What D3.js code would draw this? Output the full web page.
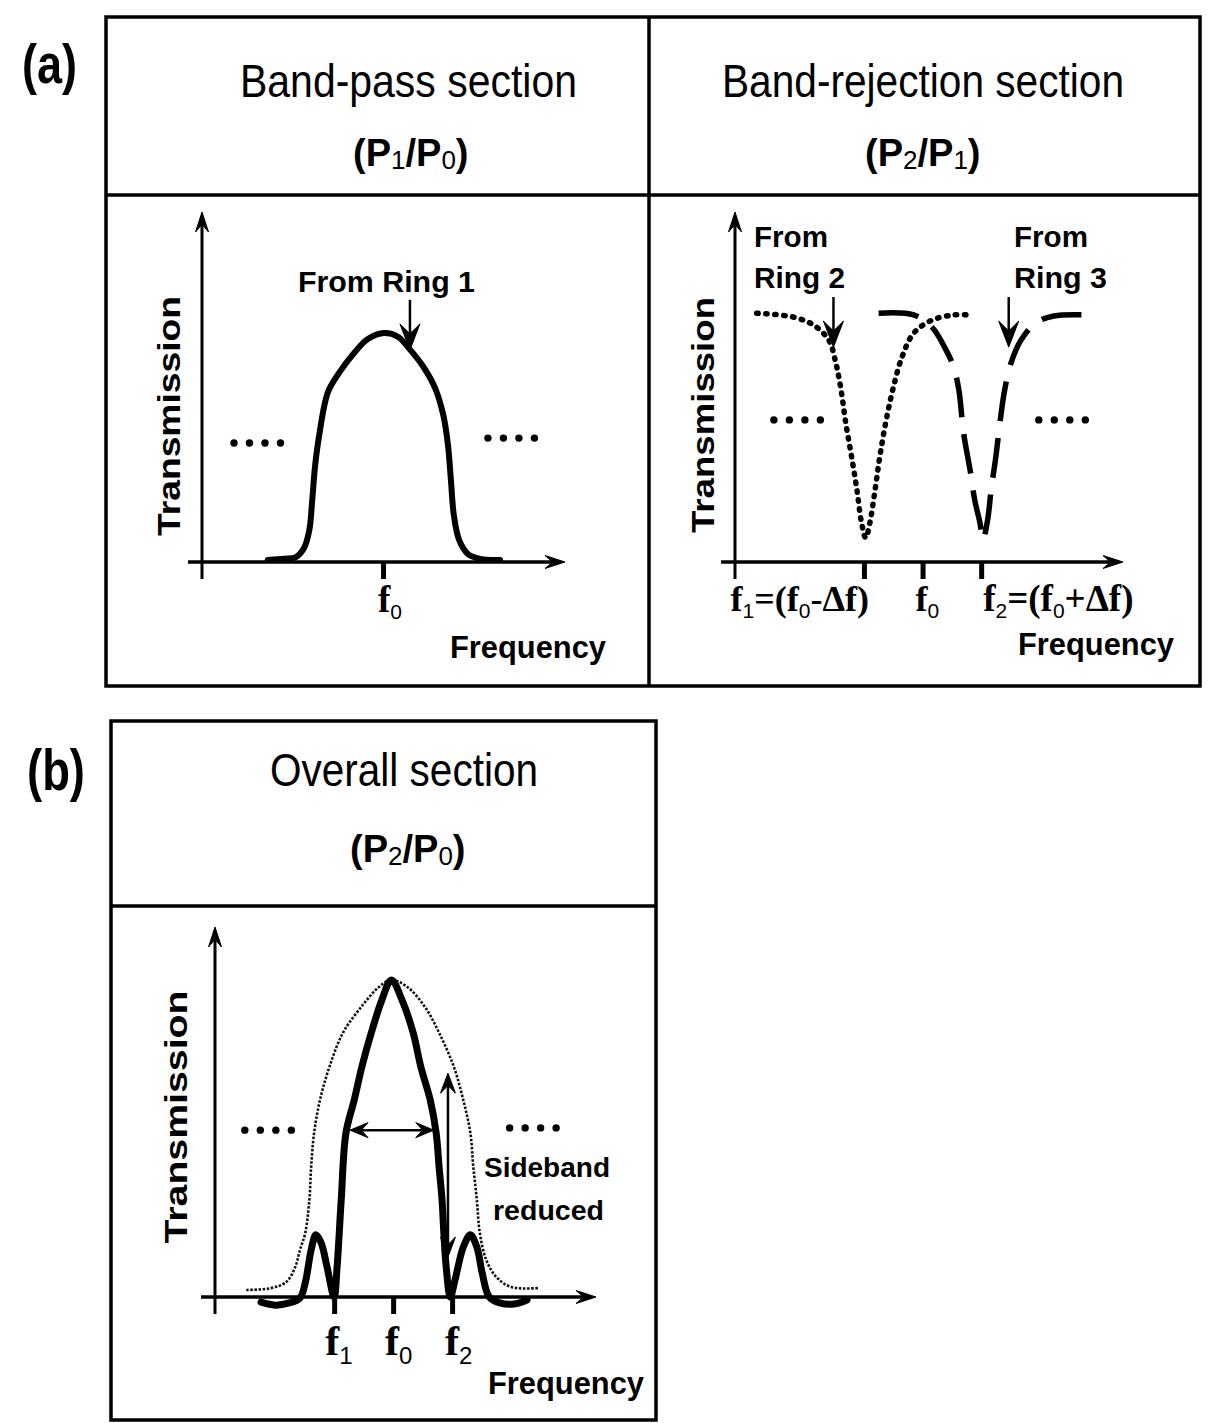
<!DOCTYPE html>
<html><head><meta charset="utf-8">
<script src="https://cdn.jsdelivr.net/npm/d3@7/dist/d3.min.js"></script>
<style>body{margin:0;background:#fff;} svg{display:block;}</style>
</head><body>
<svg id="c" width="1209" height="1423"></svg>
<script>
// ================= DATA =================
const panelLabels = ["(a)", "(b)"];
const sectionTitles = ["Band-pass section", "Band-rejection section", "Overall section"];
const ratioTitles = [
  [["(P",0],["1",1],["/P",0],["0",1],[")",0]],
  [["(P",0],["2",1],["/P",0],["1",1],[")",0]],
  [["(P",0],["2",1],["/P",0],["0",1],[")",0]]
];
const axisTitleX = "Frequency";
const axisTitleY = "Transmission";

// x in units of Δf relative to f0, y = normalised transmission
const ring1X = [-1.97,-1.68,-1.49,-1.35,-1.26,-1.21,-1.16,-1.09,-0.94,-0.74,-0.48,-0.26,0.02,0.26,0.44,0.68,0.89,1.03,1.11,1.16,1.21,1.30,1.45,1.66,2.00];
const ring1Y = [0.006,0.009,0.014,0.040,0.091,0.177,0.277,0.363,0.486,0.543,0.600,0.637,0.654,0.643,0.611,0.560,0.497,0.420,0.334,0.234,0.134,0.063,0.023,0.009,0.006];

const ring2X = [-2.83,-2.21,-1.86,-1.60,-1.48,-1.39,-1.31,-1.21,-1.12,-1.04,-0.97,-0.90,-0.81,-0.73,-0.63,-0.51,-0.35,-0.15,0.16,0.53,0.77];
const ring2Y = [0.711,0.700,0.677,0.634,0.569,0.491,0.397,0.300,0.206,0.111,0.069,0.111,0.206,0.300,0.397,0.491,0.586,0.654,0.691,0.706,0.706];

const ring3X = [-0.75,-0.15,0.16,0.40,0.53,0.62,0.70,0.82,0.89,0.98,1.03,1.11,1.17,1.25,1.32,1.40,1.51,1.68,1.93,2.24,2.79];
const ring3Y = [0.711,0.706,0.671,0.606,0.557,0.491,0.369,0.254,0.177,0.111,0.063,0.120,0.206,0.300,0.397,0.491,0.569,0.634,0.683,0.703,0.706];

const envX = [-2.49,-2.07,-1.81,-1.66,-1.58,-1.49,-1.42,-1.39,-1.34,-1.24,-1.08,-0.85,-0.54,-0.24,-0.03,0.24,0.54,0.78,1.03,1.19,1.31,1.36,1.42,1.47,1.58,1.75,2.00,2.46];
const envY = [0.019,0.024,0.041,0.081,0.127,0.173,0.262,0.351,0.443,0.532,0.622,0.714,0.784,0.838,0.857,0.838,0.784,0.714,0.622,0.532,0.443,0.351,0.262,0.173,0.100,0.054,0.027,0.024];

const overallX = [-2.24,-2.00,-1.76,-1.58,-1.49,-1.39,-1.31,-1.22,-1.12,-1.00,-0.95,-0.88,-0.80,-0.66,-0.53,-0.37,-0.19,-0.03,0.15,0.34,0.47,0.63,0.73,0.78,0.83,0.86,0.90,0.97,1.05,1.19,1.31,1.42,1.51,1.63,1.81,2.05,2.27];
const overallY = [-0.014,-0.022,-0.016,-0.003,0.038,0.127,0.168,0.146,0.081,0.000,0.081,0.262,0.443,0.532,0.622,0.714,0.803,0.857,0.803,0.714,0.622,0.532,0.443,0.351,0.262,0.173,0.081,0.000,0.046,0.135,0.168,0.135,0.065,0.000,-0.016,-0.019,-0.008];

// tick values and labels
const ticksA1 = [0];
const tickLabelsA1 = [[["f",0],["0",1]]];
const ticksA2 = [-1, 0, 1];
const tickLabelsA2 = [
  [["f",0],["1",1],["=(f",0],["0",1],["-Δf)",0]],
  [["f",0],["0",1]],
  [["f",0],["2",1],["=(f",0],["0",1],["+Δf)",0]]
];
const ticksB = [-1, 0, 1];
const tickLabelsB = [[["f",0],["1",1]], [["f",0],["0",1]], [["f",0],["2",1]]];

// annotations (data coords)
const annoA1 = [{text:["From Ring 1"], x:0.46, y0:0.749, y1:0.606}];
const annoA2 = [{text:["From","Ring 2"], x:-1.52, y0:0.757, y1:0.614},
                {text:["From","Ring 3"], x:1.47, y0:0.757, y1:0.614}];
const sidebandText = ["Sideband", "reduced"];
const bandwidthArrow = {x0:-0.73, x1:0.69, y:0.451};
const sidebandArrow = {x:0.93, y0:0.605, y1:0.108};
const ellipsisA1 = [{x:-2.15,y:0.34},{x:2.19,y:0.354}];
const ellipsisA2 = [{x:-2.14,y:0.406},{x:2.38,y:0.406}];
const ellipsisB = [{x:-2.12,y:0.451},{x:2.37,y:0.457}];

// ================= DRAW =================
const svg = d3.select("#c");
const SANS = "'Liberation Sans', Arial, Helvetica, sans-serif";
const SERIF = "'Liberation Serif', 'Times New Roman', serif";

function plainText(g, s, x, y, o) {
  const t = g.append("text").attr("x", x).attr("y", y).text(s)
    .attr("font-family", o.family || SANS)
    .attr("font-size", o.size).attr("font-weight", o.weight || "normal")
    .attr("text-anchor", o.anchor || "start").attr("fill", "#000");
  if (o.len) t.attr("textLength", o.len).attr("lengthAdjust", "spacingAndGlyphs");
  if (o.transform) t.attr("transform", o.transform);
  return t;
}
function richText(g, parts, x, y, o) {
  const t = g.append("text").attr("x", x).attr("y", y)
    .attr("font-family", o.family).attr("font-size", o.size)
    .attr("font-weight", o.weight || "bold").attr("text-anchor", o.anchor || "start").attr("fill","#000");
  let prevSub = false;
  parts.forEach(([s, sub]) => {
    const ts = t.append("tspan").text(s);
    if (sub) {
      ts.attr("font-size", o.subSize).attr("font-family", o.subFamily || SANS)
        .attr("font-weight", "normal").attr("dy", o.subDy);
      prevSub = true;
    } else {
      if (prevSub) ts.attr("dy", -o.subDy);
      prevSub = false;
    }
  });
  return t;
}
function arrowHead(g, tx, ty, dx, dy, L, W) {
  const px = -dy, py = dx;
  const bx = tx - dx * L, by = ty - dy * L;
  const nx = tx - dx * L * 0.62, ny = ty - dy * L * 0.62;
  g.append("path")
    .attr("d", `M${tx},${ty}L${bx + px * W / 2},${by + py * W / 2}L${nx},${ny}L${bx - px * W / 2},${by - py * W / 2}Z`)
    .attr("fill", "#000").attr("stroke", "#000").attr("stroke-width", 1).attr("stroke-linejoin", "miter");
}
function frame(x0, y0, x1, y1, yTitle, xDiv) {
  const g = svg.append("g").attr("fill", "none").attr("stroke", "#000").attr("stroke-width", 3.5);
  g.append("rect").attr("x", x0).attr("y", y0).attr("width", x1 - x0).attr("height", y1 - y0);
  g.append("line").attr("x1", x0).attr("x2", x1).attr("y1", yTitle).attr("y2", yTitle);
  if (xDiv) g.append("line").attr("x1", xDiv).attr("x2", xDiv).attr("y1", y0).attr("y2", y1);
}
function axes(g, x, y, ticks, tickLabels, labelOpts) {
  const [xa, xb] = x.range();
  const y0 = y(0), yTop = y.range()[1];
  g.append("line").attr("x1", xa).attr("x2", xa).attr("y1", y0 + 17).attr("y2", yTop + 8)
    .attr("stroke", "#000").attr("stroke-width", 3);
  arrowHead(g, xa, yTop, 0, -1, 20, 13);
  g.append("line").attr("x1", xa - 14).attr("x2", xb - 8).attr("y1", y0).attr("y2", y0)
    .attr("stroke", "#000").attr("stroke-width", 3.5);
  arrowHead(g, xb, y0, 1, 0, 20, 13);
  const ax = g.append("g").attr("transform", `translate(0,${y0})`)
    .call(d3.axisBottom(x).tickValues(ticks).tickSize(17).tickFormat(() => ""));
  ax.select(".domain").remove();
  ax.selectAll(".tick line").attr("stroke", "#000").attr("stroke-width", 5);
  ticks.forEach((v, i) => {
    const lo = labelOpts[i];
    richText(g, tickLabels[i], x(v) + lo.dx, lo.y, {
      family: SERIF, size: lo.size, subSize: lo.subSize, subDy: lo.subDy, weight: "bold",
      anchor: lo.anchor, subFamily: SANS });
  });
}
function ellipsis(g, x, y, list) {
  list.forEach(e => {
    const cx = x(e.x), cy = y(e.y);
    g.selectAll(null).data([-1.5, -0.5, 0.5, 1.5]).enter().append("circle")
      .attr("cx", d => cx + d * 15.5).attr("cy", cy).attr("r", 3.7).attr("fill", "#000");
  });
}
const lineGen = (x, y) => d3.line().x(d => x(d[0])).y(d => y(d[1])).curve(d3.curveCatmullRom.alpha(0.5));
const zip = (a, b) => a.map((v, i) => [v, b[i]]);

// ---------- panel (a) frame ----------
frame(106, 17, 1200, 686, 195, 649);
plainText(svg, panelLabels[0], 22, 83, {size: 55, weight: "bold", len: 55});
plainText(svg, sectionTitles[0], 240, 97, {size: 47, len: 337});
plainText(svg, sectionTitles[1], 722, 97, {size: 47, len: 402});
richText(svg, ratioTitles[0], 353, 166, {family: SANS, size: 38, subSize: 26, subDy: 3});
richText(svg, ratioTitles[1], 865, 166, {family: SANS, size: 38, subSize: 26, subDy: 3});

// ---------- (a) left: band-pass ----------
{
  const x = d3.scaleLinear().domain([-3.094, 3.11]).range([202, 565]);
  const y = d3.scaleLinear().domain([0, 1]).range([562, 212]);
  const g = svg.append("g");
  axes(g, x, y, ticksA1, tickLabelsA1, [{dx: -5, y: 612, size: 37, subSize: 21, subDy: 7}]);
  g.append("path").datum(zip(ring1X, ring1Y)).attr("d", lineGen(x, y))
    .attr("fill", "none").attr("stroke", "#000").attr("stroke-width", 6)
    .attr("stroke-linecap", "round").attr("stroke-linejoin", "round");
  annoA1.forEach(a => {
    g.append("line").attr("x1", x(a.x)).attr("x2", x(a.x)).attr("y1", y(a.y0)).attr("y2", y(a.y1) - 10)
      .attr("stroke", "#000").attr("stroke-width", 2.5);
    arrowHead(g, x(a.x), y(a.y1), 0, 1, 26, 20);
  });
  plainText(g, annoA1[0].text[0], 298, 292, {size: 30, weight: "bold", len: 177});
  ellipsis(g, x, y, ellipsisA1);
  plainText(g, axisTitleX, 450, 658, {size: 31, weight: "bold", len: 156});
  plainText(g, axisTitleY, 0, 0, {size: 31, weight: "bold", anchor: "middle", len: 240,
    transform: "translate(180,416) rotate(-90)"});
}

// ---------- (a) right: band-rejection ----------
{
  const x = d3.scaleLinear().domain([-3.2, 3.42]).range([735, 1123]);
  const y = d3.scaleLinear().domain([0, 1]).range([562, 212]);
  const g = svg.append("g");
  axes(g, x, y, ticksA2, tickLabelsA2, [
    {dx: 5, y: 611, size: 36, subSize: 21, subDy: 7, anchor: "end"},
    {dx: -7, y: 611, size: 36, subSize: 21, subDy: 7},
    {dx: 2, y: 611, size: 37, subSize: 21, subDy: 7}
  ]);
  g.append("path").datum(zip(ring2X, ring2Y)).attr("d", lineGen(x, y))
    .attr("fill", "none").attr("stroke", "#000").attr("stroke-width", 5.5)
    .attr("stroke-dasharray", "1.5,7.5").attr("stroke-linecap", "round");
  g.append("path").datum(zip(ring3X, ring3Y)).attr("d", lineGen(x, y))
    .attr("fill", "none").attr("stroke", "#000").attr("stroke-width", 5.5)
    .attr("stroke-dasharray", "40,17");
  annoA2.forEach((a, i) => {
    g.append("line").attr("x1", x(a.x)).attr("x2", x(a.x)).attr("y1", y(a.y0)).attr("y2", y(a.y1) - 10)
      .attr("stroke", "#000").attr("stroke-width", 2.5);
    arrowHead(g, x(a.x), y(a.y1), 0, 1, 26, 20);
    const tx = i === 0 ? 754 : 1014;
    plainText(g, a.text[0], tx, 247, {size: 30, weight: "bold", len: 74});
    plainText(g, a.text[1], tx, 288, {size: 30, weight: "bold", len: i === 0 ? 91 : 93});
  });
  ellipsis(g, x, y, ellipsisA2);
  plainText(g, axisTitleX, 1018, 655, {size: 31, weight: "bold", len: 156});
  plainText(g, axisTitleY, 0, 0, {size: 31, weight: "bold", anchor: "middle", len: 236,
    transform: "translate(714,415) rotate(-90)"});
}

// ---------- panel (b) ----------
frame(111, 721, 656, 1420, 906, null);
plainText(svg, panelLabels[1], 27, 790, {size: 57, weight: "bold", len: 58});
plainText(svg, sectionTitles[2], 270, 786, {size: 47, len: 268});
richText(svg, ratioTitles[2], 350, 862, {family: SANS, size: 38, subSize: 26, subDy: 3});
{
  const x = d3.scaleLinear().domain([-3.02, 3.44]).range([215, 596]);
  const y = d3.scaleLinear().domain([0, 1]).range([1297, 927]);
  const g = svg.append("g");
  axes(g, x, y, ticksB, tickLabelsB, [
    {dx: -9, y: 1355, size: 42, subSize: 24, subDy: 9},
    {dx: -8, y: 1355, size: 42, subSize: 24, subDy: 9},
    {dx: -7, y: 1355, size: 42, subSize: 24, subDy: 9}
  ]);
  g.append("path").datum(zip(envX, envY)).attr("d", lineGen(x, y))
    .attr("fill", "none").attr("stroke", "#111").attr("stroke-width", 2.6)
    .attr("stroke-dasharray", "2.5,1.6");
  g.append("path").datum(zip(overallX, overallY)).attr("d", lineGen(x, y))
    .attr("fill", "none").attr("stroke", "#000").attr("stroke-width", 7)
    .attr("stroke-linecap", "round").attr("stroke-linejoin", "round");
  // bandwidth double arrow
  const bw = bandwidthArrow;
  g.append("line").attr("x1", x(bw.x0) + 10).attr("x2", x(bw.x1) - 10).attr("y1", y(bw.y)).attr("y2", y(bw.y))
    .attr("stroke", "#000").attr("stroke-width", 2.5);
  arrowHead(g, x(bw.x0), y(bw.y), -1, 0, 18, 15);
  arrowHead(g, x(bw.x1), y(bw.y), 1, 0, 18, 15);
  // sideband double arrow
  const sa = sidebandArrow;
  g.append("line").attr("x1", x(sa.x)).attr("x2", x(sa.x)).attr("y1", y(sa.y0) + 10).attr("y2", y(sa.y1) - 10)
    .attr("stroke", "#000").attr("stroke-width", 2.5);
  arrowHead(g, x(sa.x), y(sa.y0), 0, -1, 20, 15);
  arrowHead(g, x(sa.x), y(sa.y1), 0, 1, 20, 15);
  plainText(g, sidebandText[0], 484, 1177, {size: 28, weight: "bold", len: 126});
  plainText(g, sidebandText[1], 493, 1220, {size: 28, weight: "bold", len: 111});
  ellipsis(g, x, y, ellipsisB);
  plainText(g, axisTitleX, 488, 1394, {size: 31, weight: "bold", len: 156});
  plainText(g, axisTitleY, 0, 0, {size: 31, weight: "bold", anchor: "middle", len: 253,
    transform: "translate(187,1117) rotate(-90)"});
}
</script>
</body></html>
